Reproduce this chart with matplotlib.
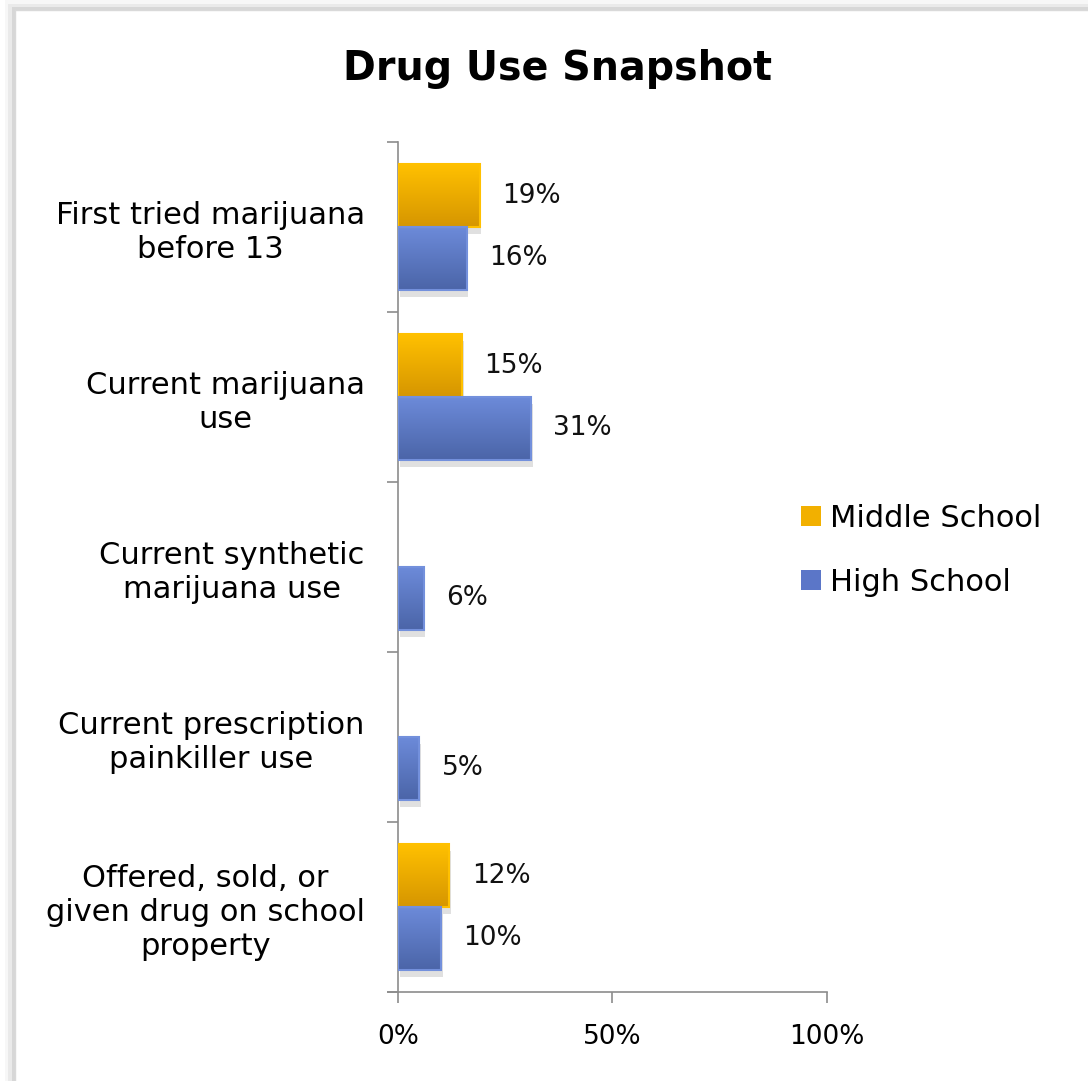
import numpy as np
import matplotlib.pyplot as plt
from matplotlib.patches import Rectangle
from matplotlib.colors import LinearSegmentedColormap

# data (percent)
categories = ["First tried marijuana\nbefore 13",
              "Current marijuana\nuse",
              "Current synthetic\nmarijuana use",
              "Current prescription\npainkiller use",
              "Offered, sold, or\ngiven drug on school\nproperty"]
middle_school = [19, 15, 0, 0, 12]
high_school = [16, 31, 6, 5, 10]
x_ticks = [0, 50, 100]

plt.rcParams['font.family'] = ['DejaVu Sans']
FS = 19      # ticks and value labels
FS_CAT = 22  # category labels and legend

fig = plt.figure(figsize=(10.88, 10.81), dpi=100)

# outer frame with a soft shadow
fx, fy = 15 / 1088, 10 / 1081
for i, a in enumerate([0.03, 0.05, 0.08]):
    d = (3 - i) * 0.003
    fig.patches.append(Rectangle((fx - d, -0.01), 1.1, 1.01 - fy + d,
                                 transform=fig.transFigure, facecolor=(0, 0, 0, a),
                                 edgecolor='none', zorder=-3 + i * 0.1))
fig.patches.append(Rectangle((fx, -0.01), 1.1, 1.01 - fy, transform=fig.transFigure,
                             facecolor='white', edgecolor='#d9d9d9', linewidth=1.0,
                             zorder=-2))

ax = fig.add_axes([0.3658, 0.0823, 0.3943, 0.7863])
ax.set_zorder(1)

n = len(categories)
y = np.arange(n)
h = 0.37

ms = np.array(middle_school, dtype=float)
hs = np.array(high_school, dtype=float)

bars_ms = ax.barh(y - h / 2, ms, height=h, color='#F2B000', edgecolor='none',
                  label='Middle School', zorder=3)
bars_hs = ax.barh(y + h / 2, hs, height=h, color='#5B76C8', edgecolor='none',
                  label='High School', zorder=3)


def shade(bars, top, bottom, edge):
    grad = np.linspace(0, 1, 64).reshape(-1, 1)
    cmap = LinearSegmentedColormap.from_list('g', [top, bottom])
    for b in bars:
        w = b.get_width()
        if w <= 0:
            continue
        x0, y0, hh = b.get_x(), b.get_y(), b.get_height()
        # shadow
        ax.add_patch(Rectangle((x0 + 0.4, y0 + 0.04), w, hh, facecolor=(0, 0, 0, 0.12),
                               edgecolor='none', zorder=2))
        ax.imshow(grad, extent=(x0, x0 + w, y0 + hh, y0), aspect='auto', cmap=cmap,
                  zorder=3.5, origin='upper')
        ax.add_patch(Rectangle((x0, y0), w, hh, facecolor='none',
                               edgecolor=edge, linewidth=1.5, zorder=4))


shade(bars_ms, '#FFC000', '#D69600', '#FFC000')
shade(bars_hs, '#6C8AD9', '#4B65A8', '#7390DC')

ax.bar_label(bars_ms, labels=[f'{v:.0f}%' if v > 0 else '' for v in ms],
             padding=16, fontsize=FS, color='#111111')
ax.bar_label(bars_hs, labels=[f'{v:.0f}%' if v > 0 else '' for v in hs],
             padding=16, fontsize=FS, color='#111111')

ax.set_xlim(0, 100)
ax.set_ylim(n - 0.5, -0.5)
ax.set_xticks(x_ticks)
ax.set_xticklabels([f'{t}%' for t in x_ticks], fontsize=FS)

ax.set_yticks(np.arange(n + 1) - 0.5, minor=False)
ax.set_yticklabels([])
ax.set_yticks(y, minor=True)
ax.set_yticklabels(categories, minor=True, fontsize=FS_CAT, ha='right',
                   multialignment='center', linespacing=1.22)
ax.tick_params(axis='y', which='minor', length=0, pad=24)
ax.tick_params(axis='y', which='major', length=8, color='#8c8c8c', width=1.2)
ax.tick_params(axis='x', length=8, color='#8c8c8c', width=1.2, pad=15)

for s in ['top', 'right']:
    ax.spines[s].set_visible(False)
for s in ['left', 'bottom']:
    ax.spines[s].set_color('#8c8c8c')
    ax.spines[s].set_linewidth(1.2)
ax.spines['bottom'].set_bounds(-2.3, 100)
ax.spines['bottom'].set_clip_on(False)
ax.set_facecolor('none')

fig.suptitle('Drug Use Snapshot', x=0.512, y=0.955, fontsize=28.5, fontweight='bold')

leg = fig.legend(handles=[bars_ms, bars_hs], loc='center left',
                 bbox_to_anchor=(0.711, 0.491), frameon=False, fontsize=FS_CAT,
                 handlelength=0.65, handleheight=0.65, handletextpad=0.3,
                 labelspacing=1.15)

fig.savefig('out.png', dpi=100)
